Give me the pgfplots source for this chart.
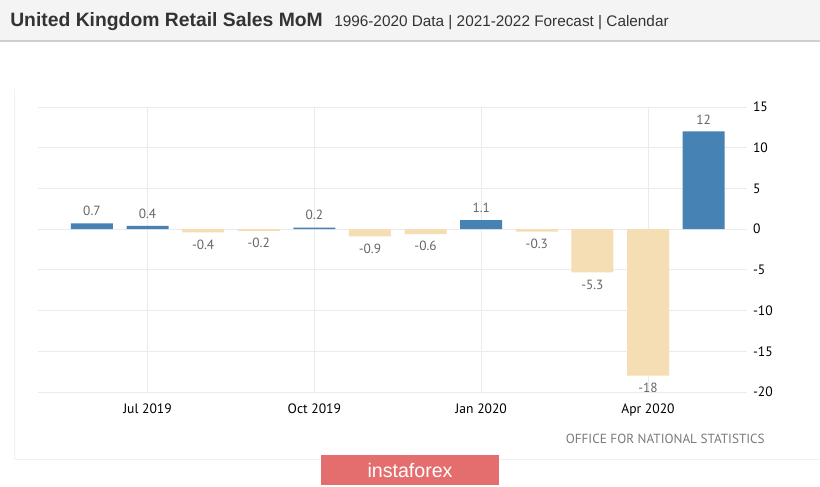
\documentclass[border=0pt]{standalone}
\usepackage{pgfplots}
\pgfplotsset{compat=1.18}
\usepackage{fontspec}
\setmainfont{PT Sans}
\newfontfamily\titlefont{Liberation Sans}

\definecolor{posblue}{HTML}{4682B4}
\definecolor{negwheat}{HTML}{F5DEB3}
\definecolor{gridgray}{HTML}{EBEBEB}
\definecolor{labgray}{HTML}{666666}
\definecolor{barbg}{HTML}{F4F4F4}
\definecolor{barline}{HTML}{CFCFCF}
\definecolor{srcgray}{HTML}{7A7A7A}
\definecolor{instared}{HTML}{E46E6E}

\begin{document}
\begin{tikzpicture}
\useasboundingbox (0,0) rectangle (615pt,364.5pt);
% page furniture, in pixels of the reference (y measured from the bottom)
\begin{scope}[x=0.75pt,y=0.75pt]
  \fill[white] (0,0) rectangle (820,486);
  \fill[barbg] (0,486) rectangle (820,445);
  \draw[barline, line width=1.5pt] (0,445) -- (820,445);
  \draw[gridgray!70, line width=0.75pt] (14,397) -- (14,27) -- (820,27);
  \node[anchor=base west, inner sep=0, text=black!80,
        font=\titlefont\bfseries\fontsize{14.5pt}{17pt}\selectfont] at (10,459)
        {United Kingdom Retail Sales MoM};
  \node[anchor=base west, inner sep=0, text=black!80,
        font=\titlefont\fontsize{11.5pt}{14pt}\selectfont] at (334,459)
        {1996-2020 Data | 2021-2022 Forecast | Calendar};
  \node[anchor=base east, inner sep=0, text=srcgray,
        font=\fontsize{9.9pt}{11pt}\selectfont] at (765,43)
        {OFFICE FOR NATIONAL STATISTICS};
  \fill[instared] (321,1) rectangle (499,31);
  \node[text=white, inner sep=0, font=\titlefont\fontsize{14.7pt}{17pt}\selectfont]
        at (410,16) {instaforex};
\end{scope}

\begin{axis}[
    at={(28.5pt,70.5pt)}, anchor=south west,
    scale only axis,
    width=531.75pt, height=213.75pt,
    xmin=-0.97, xmax=11.78,
    ymin=-20, ymax=15,
    axis line style={draw=none},
    tick style={draw=none},
    xtick={1,4,7,10},
    xticklabels={Jul 2019,Oct 2019,Jan 2020,Apr 2020},
    ytick={-20,-15,-10,-5,0,5,10,15},
    yticklabels={-20,-15,-10,-5,0,5,10,15},
    yticklabel pos=right,
    xmajorgrids, ymajorgrids,
    grid style={gridgray, line width=0.75pt},
    ticklabel style={font=\fontsize{10.2pt}{12pt}\selectfont, text=black},
    x tick label style={yshift=-1pt},
    y tick label style={anchor=west, xshift=1pt},
    ybar,
    bar width=31.5pt,
    nodes near coords,
    point meta=explicit symbolic,
    nodes near coords style={font=\fontsize{10pt}{12pt}\selectfont, text=labgray},
]

% rises
\addplot[fill=posblue, draw=none, bar shift=0pt,
    every node near coord/.append style={anchor=south, yshift=2pt}]
    coordinates {
    (0,0.7) [0.7]
    (1,0.4) [0.4]
    (4,0.2) [0.2]
    (7,1.1) [1.1]
    (11,12) [12]
    };

% falls
\addplot[fill=negwheat, draw=none, bar shift=0pt,
    every node near coord/.append style={anchor=north, yshift=-2pt}]
    coordinates {
    (2,-0.4) [-0.4]
    (3,-0.2) [-0.2]
    (5,-0.9) [-0.9]
    (6,-0.6) [-0.6]
    (8,-0.3) [-0.3]
    (9,-5.3) [-5.3]
    (10,-18) [-18]
    };

\end{axis}
\end{tikzpicture}
\end{document}
